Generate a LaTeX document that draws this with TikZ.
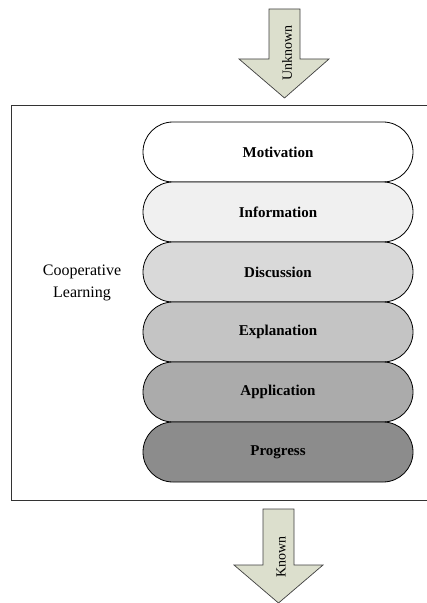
\documentclass[tikz,border=0pt]{standalone}
\usepackage{fontspec}
\setmainfont{Liberation Serif}
\begin{document}
\begin{tikzpicture}[x=1bp,y=-1bp,
  stage/.style={draw=black, line width=0.8bp, rounded corners=30bp,
    minimum width=270bp, minimum height=60bp, inner sep=0pt,
    font=\fontsize{15bp}{17bp}\selectfont\bfseries},
  flowarrow/.style={draw=black!75, line width=0.7bp, fill=arrowfill},
  arrowtext/.style={rotate=90, font=\fontsize{14bp}{16bp}\selectfont, inner sep=0pt},
  sidetext/.style={font=\fontsize{16bp}{18bp}\selectfont, align=center, inner sep=0pt}]
\definecolor{arrowfill}{HTML}{DCDFCD}
\useasboundingbox (0,0) rectangle (426,603);
\fill[white] (0,0) rectangle (426,603);

% outer frame (right side runs off the page)
\node[draw=black!80, line width=0.9bp, minimum width=417bp, minimum height=395bp,
  inner sep=0pt, anchor=north west] (frame) at (10.5,105) {};

% stacked stages, lighter at the top
\node[stage, fill=white]    (s1) at (278,152) {Motivation};
\node[stage, fill=black!6]  (s2) at (278,212) {Information};
\node[stage, fill=black!15] (s3) at (278,272) {Discussion};
\node[stage, fill=black!23] (s4) at (278,332) {Explanation};
\node[stage, fill=black!33] (s5) at (278,392) {Application};
\node[stage, fill=black!45] (s6) at (278,452) {Progress};

\node[sidetext] (coop) at (82,283) {Cooperative\\[4bp]Learning};

% input arrow
\draw[flowarrow] (269,9) -- (300,9) -- (300,59) -- (329,59) -- (284.5,98)
  -- (239,59) -- (269,59) -- cycle;
\node[arrowtext] (unknown) at (287,53) {Unknown};

% output arrow
\draw[flowarrow] (263,509) -- (294,509) -- (294,565) -- (323,565) -- (278.5,603)
  -- (234,565) -- (263,565) -- cycle;
\node[arrowtext] (known) at (281,557) {Known};
\end{tikzpicture}
\end{document}
